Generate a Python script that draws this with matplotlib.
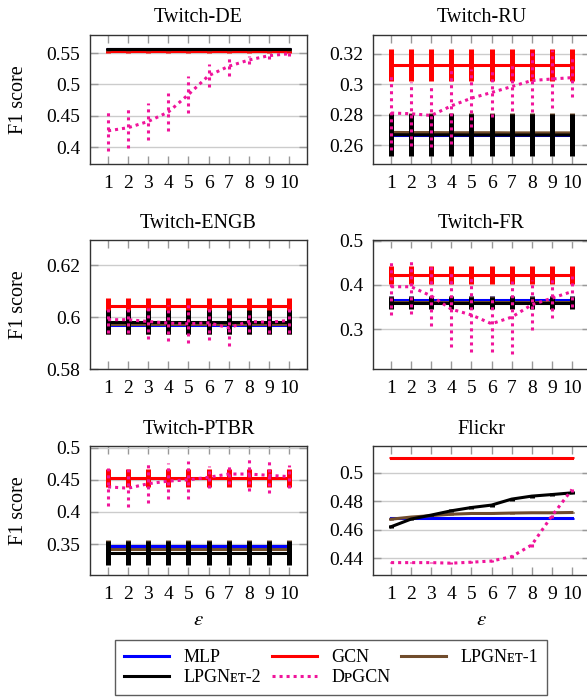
import numpy as np
import matplotlib
matplotlib.use("Agg")
import matplotlib.pyplot as plt
from matplotlib.ticker import FuncFormatter

plt.rcParams['font.family'] = ['Liberation Serif', 'DejaVu Serif']
plt.rcParams['mathtext.fontset'] = 'stix'

eps = np.arange(1, 11)

# mean values per dataset: MLP, GCN, LPGNet-1, LPGNet-2, DpGCN
de_mlp = [0.556] * 10
de_gcn = [0.553] * 10
de_lpg1 = [0.556] * 10
de_lpg2 = [0.5565] * 10
de_dp = [0.426, 0.431, 0.441, 0.456, 0.484, 0.514, 0.529, 0.539, 0.546, 0.549]
de_dp_err = [0.032, 0.032, 0.030, 0.031, 0.029, 0.018, 0.016, 0.006, 0.006, 0.004]

ru_mlp = [0.2664] * 10
ru_gcn = [0.3128] * 10
ru_lpg1 = [0.2683, 0.2682, 0.2682, 0.2681, 0.2681, 0.2681, 0.2680, 0.2680, 0.2680, 0.2680]
ru_lpg2 = [0.2668, 0.2667, 0.2667, 0.2667, 0.2666, 0.2666, 0.2666, 0.2666, 0.2666, 0.2666]
ru_dp = [0.2811, 0.2806, 0.2795, 0.2858, 0.2909, 0.2946, 0.2985, 0.3025, 0.3035, 0.3044]
ru_dp_err = [0.0245, 0.021, 0.021, 0.025, 0.019, 0.016, 0.016, 0.021, 0.019, 0.013]

engb_mlp = [0.5968] * 10
engb_gcn = [0.6041] * 10
engb_lpg1 = [0.5975] * 10
engb_lpg2 = [0.598] * 10
engb_dp = [0.599, 0.599, 0.5983, 0.5977, 0.5974, 0.5978, 0.5959, 0.5983, 0.598, 0.5987]
engb_dp_err = [0.005, 0.005, 0.0067, 0.0068, 0.0075, 0.0065, 0.007, 0.004, 0.004, 0.005]

fr_mlp = [0.366] * 10
fr_gcn = [0.4226] * 10
fr_lpg1 = [0.362] * 10
fr_lpg2 = [0.3585] * 10
fr_dp = [0.396, 0.396, 0.375, 0.345, 0.332, 0.312, 0.327, 0.355, 0.370, 0.385]
fr_dp_err = [0.063, 0.062, 0.068, 0.085, 0.083, 0.064, 0.083, 0.057, 0.045, 0.036]

ptbr_mlp = [0.347] * 10
ptbr_gcn = [0.4526] * 10
ptbr_lpg1 = [0.342] * 10
ptbr_lpg2 = [0.3366] * 10
ptbr_dp = [0.439, 0.437, 0.444, 0.448, 0.450, 0.454, 0.459, 0.459, 0.457, 0.455]
ptbr_dp_err = [0.030, 0.030, 0.030, 0.028, 0.030, 0.017, 0.016, 0.026, 0.027, 0.018]

fl_mlp = [0.468] * 10
fl_gcn = [0.5107] * 10
fl_lpg1 = [0.4675, 0.469, 0.470, 0.471, 0.4715, 0.4715, 0.4718, 0.472, 0.472, 0.4722]
fl_lpg2 = [0.4622, 0.4676, 0.4704, 0.4734, 0.4757, 0.4774, 0.4816, 0.4837, 0.4848, 0.486]
fl_dp = [0.437, 0.437, 0.437, 0.4366, 0.4373, 0.4381, 0.4412, 0.4494, 0.4697, 0.4883]
fl_dp_err = [0.0005, 0.0005, 0.0005, 0.0005, 0.0005, 0.0008, 0.0008, 0.0015, 0.0015, 0.0015]

# (title, values, errors (mlp, gcn, lpg1, lpg2), dp error, yticks, ylim)
panels = [
    ("Twitch-DE", (de_mlp, de_gcn, de_lpg1, de_lpg2, de_dp),
     (0.002, 0.002, 0.002, 0.002), de_dp_err, [0.4, 0.45, 0.5, 0.55], (0.373, 0.579)),
    ("Twitch-RU", (ru_mlp, ru_gcn, ru_lpg1, ru_lpg2, ru_dp),
     (0.012, 0.0106, 0.013, 0.0137), ru_dp_err, [0.26, 0.28, 0.3, 0.32], (0.2475, 0.3325)),
    ("Twitch-ENGB", (engb_mlp, engb_gcn, engb_lpg1, engb_lpg2, engb_dp),
     (0.003, 0.0032, 0.004, 0.0047), engb_dp_err, [0.58, 0.6, 0.62], (0.58, 0.6297)),
    ("Twitch-FR", (fr_mlp, fr_gcn, fr_lpg1, fr_lpg2, fr_dp),
     (0.01, 0.02, 0.012, 0.014), fr_dp_err, [0.3, 0.4, 0.5], (0.2094, 0.502)),
    ("Twitch-PTBR", (ptbr_mlp, ptbr_gcn, ptbr_lpg1, ptbr_lpg2, ptbr_dp),
     (0.008, 0.0135, 0.015, 0.019), ptbr_dp_err, [0.35, 0.4, 0.45, 0.5], (0.302, 0.5026)),
    ("Flickr", (fl_mlp, fl_gcn, fl_lpg1, fl_lpg2, fl_dp),
     (0.0004, 0.0004, 0.0005, 0.001), fl_dp_err, [0.44, 0.46, 0.48, 0.5], (0.4283, 0.5189)),
]

names = ["MLP", "GCN", "LPGNᴇᴛ-1", "LPGNᴇᴛ-2", "DᴘGCN"]
colors = ["#0000ff", "#ff0000", "#704c2c", "#000000", "#f0149b"]
dotted = (0, (1, 1.3))

fig = plt.figure(figsize=(5.87, 6.98), dpi=100)
W, H = 587, 698
lefts = [90, 373]
tops = [35, 240, 446]
aw, ah = 217, 129

handles = {}
for i, (title, vals, errs, dp_err, yt, yl) in enumerate(panels):
    r, c = divmod(i, 2)
    ax = fig.add_axes([lefts[c] / W, 1 - (tops[r] + ah) / H, aw / W, ah / H])
    for k in range(4):
        ln, caps, bars = ax.errorbar(eps, vals[k], yerr=errs[k], color=colors[k],
                                     lw=2.2, elinewidth=3.6, capsize=0, zorder=2 + k)
        handles[names[k]] = ln
    ln, caps, bars = ax.errorbar(eps, vals[4], yerr=dp_err, color=colors[4],
                                 lw=2.2, elinewidth=2.2, capsize=0, zorder=7)
    ln.set_linestyle(dotted)
    ln.set_dash_capstyle('butt')
    bars[0].set_linestyle(dotted)
    handles[names[4]] = ln

    ax.set_xlim(0.1, 10.9)
    ax.set_ylim(*yl)
    ax.set_xticks(eps)
    ax.set_yticks(yt)
    ax.yaxis.set_major_formatter(FuncFormatter(lambda v, p: "%g" % v))
    ax.grid(axis='y', color='#cccccc', lw=1.0, zorder=0)
    ax.tick_params(direction='in', top=True, right=True, length=6, width=1,
                   color='#999999', labelsize=14, pad=7)
    ax.tick_params(axis='x', pad=8)
    for s in ax.spines.values():
        s.set_color('#333333')
        s.set_linewidth(1.0)
    ax.set_title(title, fontsize=14.5, pad=9)
    if c == 0:
        ax.set_ylabel("F1 score", fontsize=14.5, labelpad=13)
    if r == 2:
        ax.set_xlabel(r"$\epsilon$", fontsize=15, labelpad=6)

order = ["MLP", "LPGNᴇᴛ-2", "GCN", "DᴘGCN", "LPGNᴇᴛ-1"]
leg = fig.legend([handles[n] for n in order], order, ncol=3, loc='center',
                 bbox_to_anchor=(331 / W, 1 - 667.5 / H), fontsize=13,
                 frameon=True, fancybox=False, edgecolor='#333333',
                 handlelength=2.5, handletextpad=0.8, columnspacing=0.6,
                 borderpad=0.5, labelspacing=0.15)
leg.get_frame().set_linewidth(1.0)

fig.savefig("out.png", dpi=100)
